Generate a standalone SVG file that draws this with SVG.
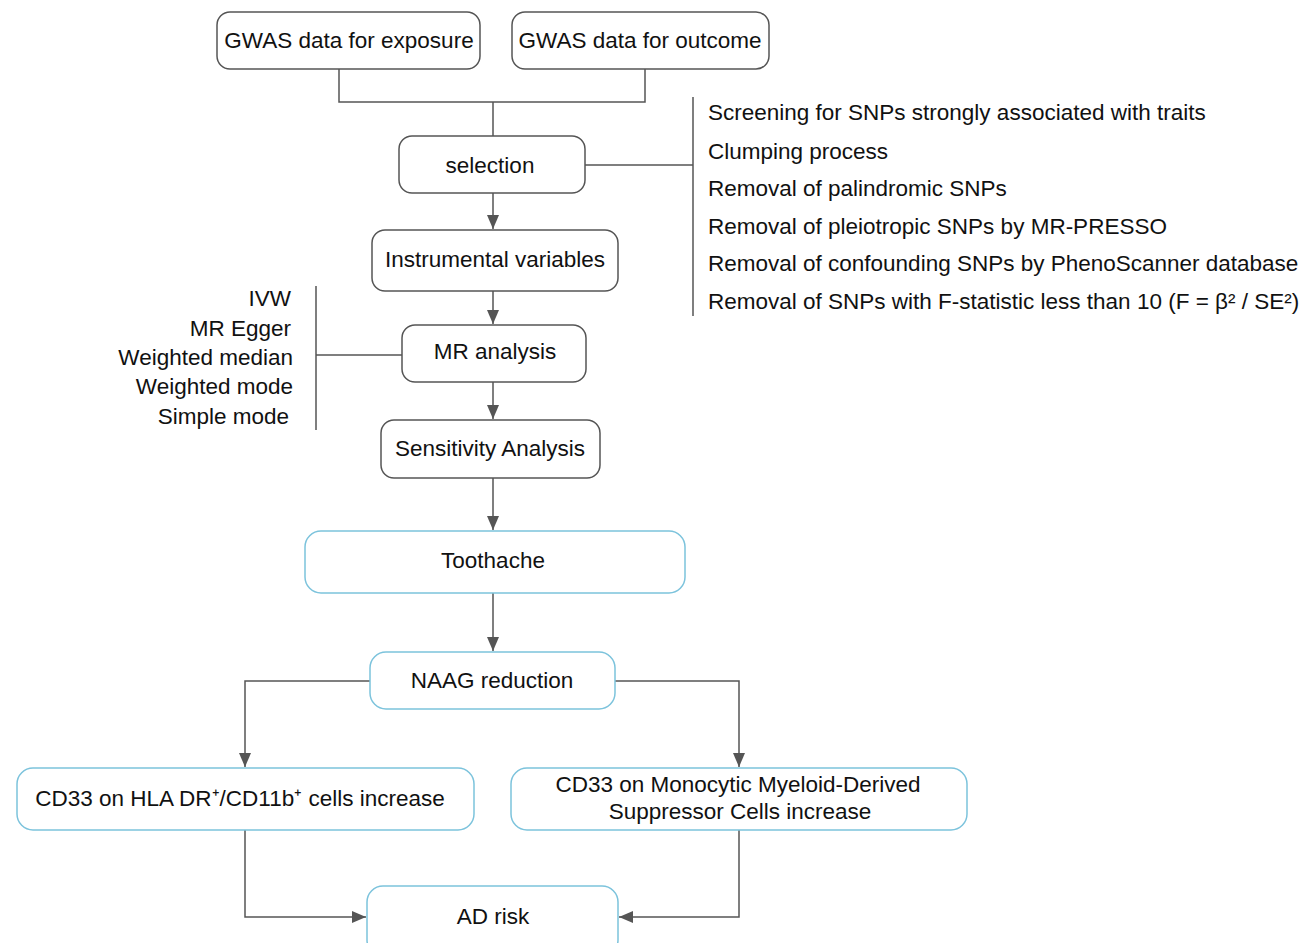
<svg xmlns="http://www.w3.org/2000/svg" width="1312" height="943" viewBox="0 0 1312 943">
<style>
text{font-family:"Liberation Sans",Arial,sans-serif;font-size:22.5px;fill:#111}
.c{text-anchor:middle}
.r{text-anchor:end}
.g{fill:#fff;stroke:#555;stroke-width:1.5}
.b{fill:#fff;stroke:#7cc3dc;stroke-width:1.5}
.ln{fill:none;stroke:#555;stroke-width:1.5}
</style>
<defs>
<marker id="ah" viewBox="0 0 14 12" refX="14" refY="6" markerWidth="14" markerHeight="12" markerUnits="userSpaceOnUse" orient="auto">
<path d="M0,0 L14,6 L0,12 z" fill="#555"/>
</marker>
</defs>
<rect width="1312" height="943" fill="#fff"/>
<g id="connectors">
<path class="ln" d="M339,69 V102 H645 V69"/>
<path class="ln" d="M493,102 V136"/>
<path class="ln" d="M585,165 H693"/>
<path class="ln" d="M693,97 V316"/>
<path class="ln" d="M493,193 V229" marker-end="url(#ah)"/>
<path class="ln" d="M493,291 V324" marker-end="url(#ah)"/>
<path class="ln" d="M316,355 H402"/>
<path class="ln" d="M316,286 V430"/>
<path class="ln" d="M493,382 V419" marker-end="url(#ah)"/>
<path class="ln" d="M493,478 V530" marker-end="url(#ah)"/>
<path class="ln" d="M493,593 V651" marker-end="url(#ah)"/>
<path class="ln" d="M370,681 H245 V767" marker-end="url(#ah)"/>
<path class="ln" d="M615,681 H739 V767" marker-end="url(#ah)"/>
<path class="ln" d="M245,830 V917 H366" marker-end="url(#ah)"/>
<path class="ln" d="M739,830 V917 H619" marker-end="url(#ah)"/>
</g>
<g id="n-exposure"><rect class="g" x="217" y="12" width="263" height="57" rx="13"/><text class="c" x="349" y="48">GWAS data for exposure</text></g>
<g id="n-outcome"><rect class="g" x="512" y="12" width="257" height="57" rx="13"/><text class="c" x="640" y="48">GWAS data for outcome</text></g>
<g id="n-selection"><rect class="g" x="399" y="136" width="186" height="57" rx="13"/><text class="c" x="490" y="173">selection</text></g>
<g id="n-criteria">
<text x="708" y="120">Screening for SNPs strongly associated with traits</text>
<text x="708" y="159">Clumping process</text>
<text x="708" y="196">Removal of palindromic SNPs</text>
<text x="708" y="234">Removal of pleiotropic SNPs by MR-PRESSO</text>
<text x="708" y="271">Removal of confounding SNPs by PhenoScanner database</text>
<text x="708" y="309">Removal of SNPs with F-statistic less than 10 (F = β² / SE²)</text>
</g>
<g id="n-iv"><rect class="g" x="372" y="230" width="246" height="61" rx="13"/><text class="c" x="495" y="267">Instrumental variables</text></g>
<g id="n-mr"><rect class="g" x="402" y="325" width="184" height="57" rx="13"/><text class="c" x="495" y="359">MR analysis</text></g>
<g id="n-methods">
<text class="r" x="291" y="306">IVW</text>
<text class="r" x="291" y="336">MR Egger</text>
<text class="r" x="293" y="365">Weighted median</text>
<text class="r" x="293" y="394">Weighted mode</text>
<text class="r" x="289" y="424">Simple mode</text>
</g>
<g id="n-sens"><rect class="g" x="381" y="420" width="219" height="58" rx="13"/><text class="c" x="490" y="456">Sensitivity Analysis</text></g>
<g id="n-tooth"><rect class="b" x="305" y="531" width="380" height="62" rx="16"/><text class="c" x="493" y="568">Toothache</text></g>
<g id="n-naag"><rect class="b" x="370" y="652" width="245" height="57" rx="16"/><text class="c" x="492" y="688">NAAG reduction</text></g>
<g id="n-hla"><rect class="b" x="17" y="768" width="457" height="62" rx="16"/><text class="c" x="240" y="806">CD33 on HLA DR⁺/CD11b⁺ cells increase</text></g>
<g id="n-mdsc"><rect class="b" x="511" y="768" width="456" height="62" rx="16"/><text class="c" x="738" y="792">CD33 on Monocytic Myeloid-Derived</text><text class="c" x="740" y="819">Suppressor Cells increase</text></g>
<g id="n-ad"><rect class="b" x="367" y="886" width="251" height="70" rx="16"/><text class="c" x="493" y="924">AD risk</text></g>
</svg>
